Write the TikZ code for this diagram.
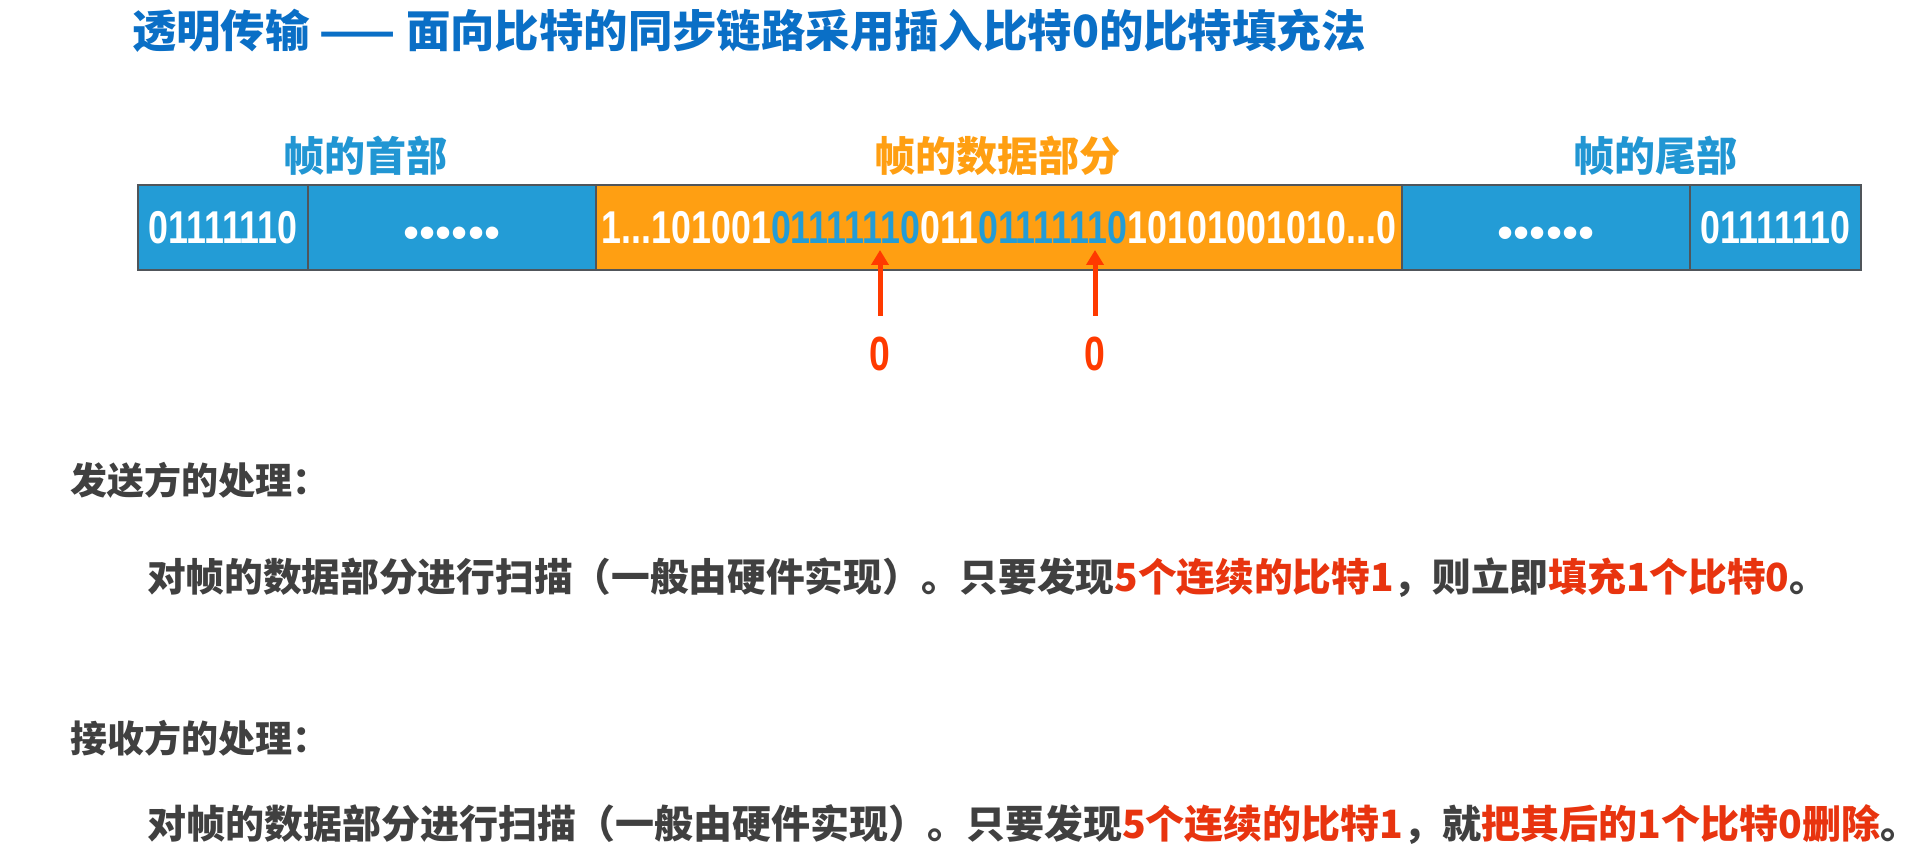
\documentclass[tikz,border=0pt]{standalone}
\usepackage{fontspec}
\usetikzlibrary{arrows.meta}
\newfontfamily\cjk{Noto Sans CJK SC}
\newfontfamily\digf[FakeStretch=0.778, BoldFont={Liberation Sans Bold}]{Liberation Sans}
\newfontfamily\bulf{Liberation Sans}
\definecolor{boxblue}{HTML}{239CD6}
\definecolor{boxorange}{HTML}{FF9F12}
\definecolor{lblblue}{HTML}{2196D3}
\definecolor{titleblue}{HTML}{0A6FC6}
\definecolor{arrowred}{HTML}{FF3A00}
\definecolor{textgray}{HTML}{404040}
\definecolor{textred}{HTML}{E8340F}
\definecolor{bordergray}{HTML}{50555A}
\newcommand{\sixdots}{••••••}
\tikzset{
  every node/.style={inner sep=0pt, outer sep=0pt},
  titlestyle/.style={anchor=west, text=titleblue, font=\cjk\bfseries\fontsize{44.4}{44.4}\selectfont, text height=39pt, text depth=5.4pt},
  lblstyle/.style={text height=36pt, text depth=4.9pt, font=\cjk\bfseries\fontsize{41}{41}\selectfont},
  headstyle/.style={anchor=west, text=textgray, font=\cjk\bfseries\fontsize{37}{37}\selectfont, text height=32.6pt, text depth=4.4pt},
  bodystyle/.style={anchor=west, text=textgray, font=\cjk\bfseries\fontsize{38.7}{38.7}\selectfont, text height=34pt, text depth=4.7pt},
  framebox/.style={draw=bordergray, line width=2.5pt, minimum height=85pt, text=white, font=\digf\bfseries\fontsize{46}{46}\selectfont, text height=33pt, text depth=0pt},
  bluebox/.style={framebox, fill=boxblue},
  orangebox/.style={framebox, fill=boxorange},
  dotsbox/.style={bluebox, font=\bulf\fontsize{46}{46}\selectfont, text height=43pt, text depth=0pt},
  zerolbl/.style={text=arrowred, font=\digf\bfseries\fontsize{48}{48}\selectfont, text height=34.4pt, text depth=0pt},
  redarrow/.style={draw=arrowred, line width=5pt, -{Triangle[width=17pt,length=15pt]}, shorten <=20pt}
}
\begin{document}
\begin{tikzpicture}[x=1pt,y=-1pt]
\useasboundingbox[fill=white] (0,0) rectangle (1919,866);
% title
\node[titlestyle] (title) at (132,31) {透明传输 —— 面向比特的同步链路采用插入比特0的比特填充法};
% labels
\node[lblstyle, text=lblblue] (lhead) at (365,156) {帧的首部};
\node[lblstyle, text=boxorange] (ldata) at (997,156) {帧的数据部分};
\node[lblstyle, text=lblblue] (ltail) at (1655,156) {帧的尾部};
% frame
\node[bluebox, minimum width=170pt] (f1) at (223,227.5) {01111110};
\node[dotsbox, minimum width=288pt] (f2) at (452,227.5) {\sixdots};
\node[orangebox, minimum width=806pt] (f3) at (999,227.5) {1...101001{\color{boxblue}01111110}011{\color{boxblue}01111110}10101001010...0};
\node[dotsbox, minimum width=288pt] (f4) at (1546,227.5) {\sixdots};
\node[bluebox, minimum width=171pt] (f5) at (1775.5,227.5) {01111110};
% inserted zeros
\coordinate (h1) at (880,250);
\coordinate (h2) at (1095,250);
\node[zerolbl] (z1) at (880,353) {0};
\node[zerolbl] (z2) at (1095,353) {0};
\draw[redarrow] (z1.north) -- (h1);
\draw[redarrow] (z2.north) -- (h2);
% text
\node[headstyle] (send) at (70,480) {发送方的处理：};
\node[bodystyle] (sendtxt) at (147,577) {对帧的数据部分进行扫描（一般由硬件实现）。只要发现{\color{textred}5个连续的比特1}，则立即{\color{textred}填充1个比特0}。};
\node[headstyle] (recv) at (70,738) {接收方的处理：};
\node[bodystyle, font=\cjk\bfseries\fontsize{39}{39}\selectfont] (recvtxt) at (147,824) {对帧的数据部分进行扫描（一般由硬件实现）。只要发现{\color{textred}5个连续的比特1}，就{\color{textred}把其后的1个比特0删除}。};
\end{tikzpicture}
\end{document}
